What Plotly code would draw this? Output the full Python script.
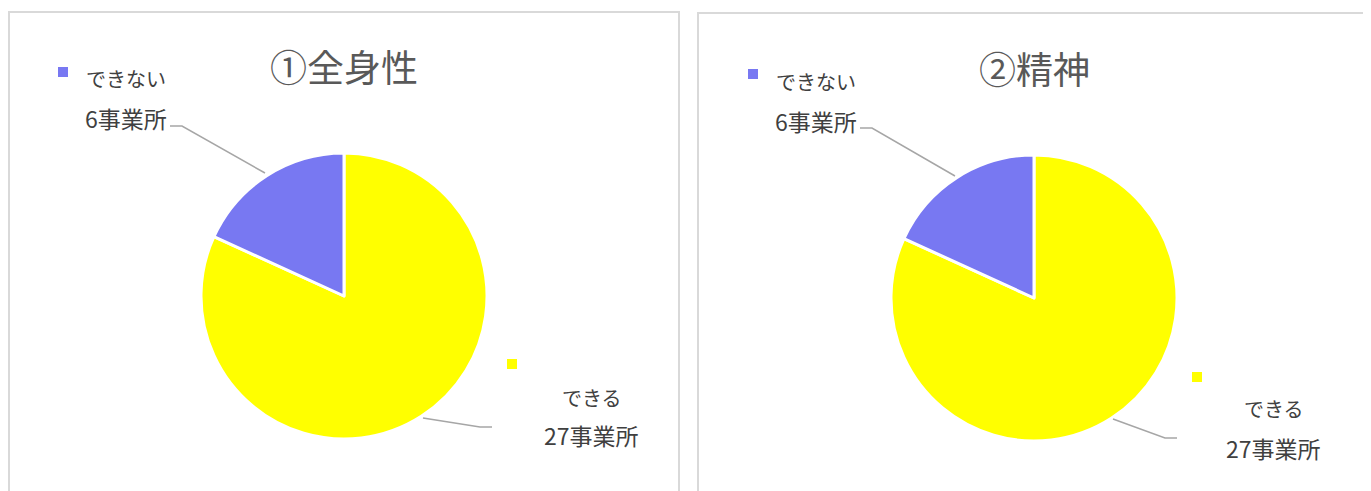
import plotly.graph_objects as go

# data
categories = ["できる", "できない"]
zenshin_counts = [27, 6]
seishin_counts = [27, 6]
titles = ["①全身性", "②精神"]
unit = "事業所"

colors = ["#FFFF00", "#7878F2"]
W, H = 1371, 491
OFF = 8  # default body margin of the html page
FONT = "Noto Sans CJK JP"


def px(x):
    return (x - OFF) / W


def py(y):
    return 1 - (y - OFF) / H


fig = go.Figure()

# pie placement in pixels: (left, top, size)
pies = [
    (zenshin_counts, (201, 153, 286)),
    (seishin_counts, (891, 155, 286)),
]
for counts, (left, top, size) in pies:
    fig.add_trace(go.Pie(
        labels=categories,
        values=counts,
        sort=False,
        direction="clockwise",
        rotation=0,
        textinfo="none",
        hoverinfo="label+value",
        marker=dict(colors=colors, line=dict(color="white", width=3)),
        domain=dict(x=[px(left), px(left + size)], y=[py(top + size), py(top)]),
        showlegend=False,
    ))

shapes = []
annotations = []

# panel borders
for x0, x1, y0 in [(9, 679, 12), (698, 1369, 13)]:
    shapes.append(dict(type="rect", xref="paper", yref="paper",
                       x0=px(x0), x1=px(x1), y0=py(y0), y1=py(H + 20),
                       line=dict(color="#D9D9D9", width=2), fillcolor="rgba(0,0,0,0)"))

# panel titles
for title, cx, cy in zip(titles, [344, 1034], [66, 68]):
    annotations.append(dict(text=title, x=px(cx), y=py(cy), xref="paper", yref="paper",
                            xanchor="center", yanchor="middle", showarrow=False,
                            font=dict(family=FONT, size=37, color="#595959")))

# data labels with legend keys and leader lines
label_layout = [
    # per category: key square center, name center, value center, leader points
    (zenshin_counts, [
        ((512, 364), (592, 397), (591, 435), [(423, 418), (480, 427), (492, 427)]),
        ((63, 72), (126, 79), (126, 118), [(265, 173), (182, 126), (170, 126)]),
    ]),
    (seishin_counts, [
        ((1197, 377), (1274, 408), (1273, 448), [(1113, 419), (1165, 438), (1177, 438)]),
        ((753, 74), (816, 81), (816, 121), [(955, 176), (872, 128), (860, 128)]),
    ]),
]
for counts, items in label_layout:
    for cat, val, color, (key, name_pos, val_pos, pts) in zip(categories, counts, colors, items):
        shapes.append(dict(type="rect", xref="paper", yref="paper",
                           x0=px(key[0] - 5), x1=px(key[0] + 5),
                           y0=py(key[1] + 5), y1=py(key[1] - 5),
                           line=dict(width=0), fillcolor=color))
        for txt, (tx, ty), size in [(cat, name_pos, 20), (f"{val}{unit}", val_pos, 23)]:
            annotations.append(dict(text=txt, x=px(tx), y=py(ty),
                                    xref="paper", yref="paper", showarrow=False,
                                    xanchor="center", yanchor="middle",
                                    font=dict(family=FONT, size=size, color="#404040")))
        path = "M " + " L ".join(f"{px(x)},{py(y)}" for x, y in pts)
        shapes.append(dict(type="path", xref="paper", yref="paper", path=path,
                           line=dict(color="#A6A6A6", width=1.5)))

fig.update_layout(
    width=W,
    height=H,
    margin=dict(l=0, r=0, t=0, b=0),
    paper_bgcolor="white",
    plot_bgcolor="white",
    shapes=shapes,
    annotations=annotations,
)

fig.write_html("out.html")
